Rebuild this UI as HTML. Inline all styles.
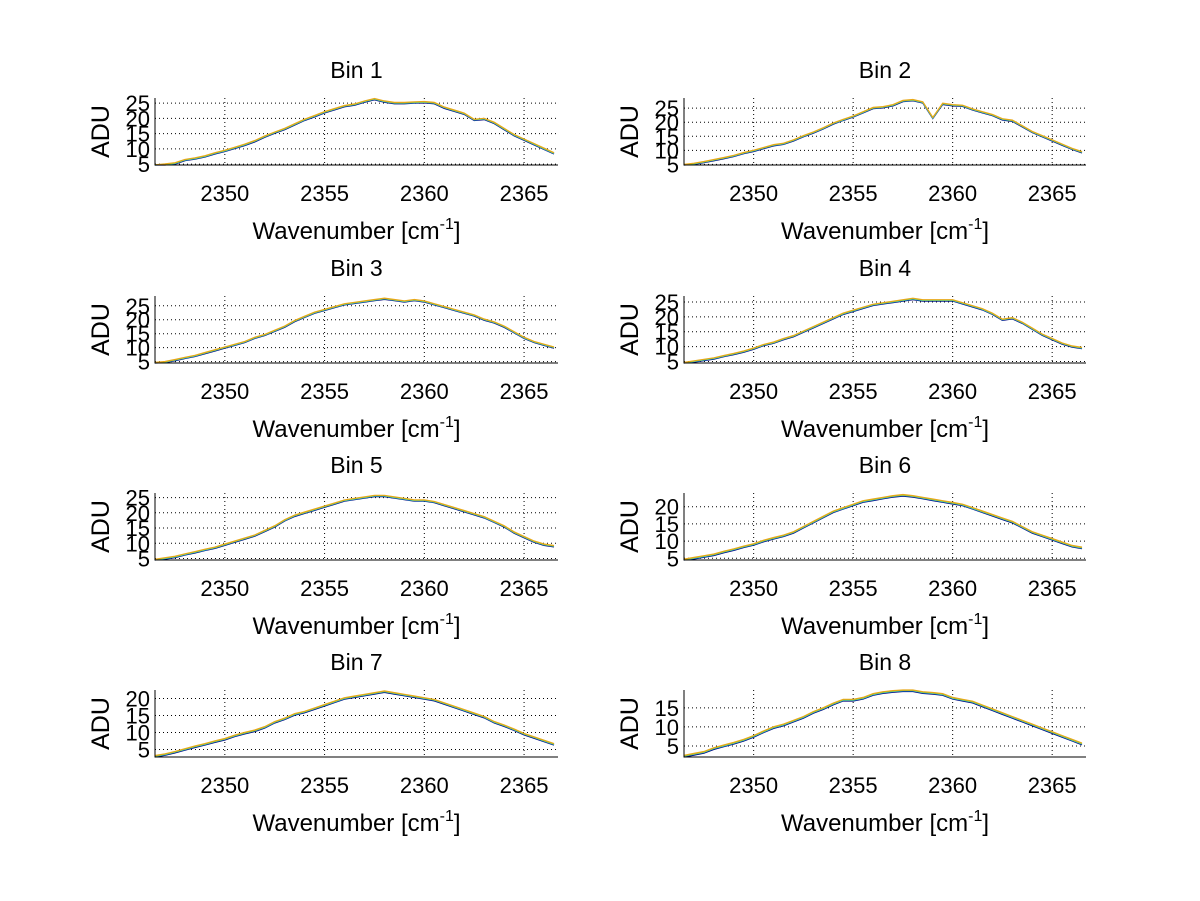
<!DOCTYPE html>
<html><head><meta charset="utf-8"><style>
html,body{margin:0;padding:0;background:#fff;}
svg{display:block;font-family:"Liberation Sans",sans-serif;}
</style></head><body>
<svg id="fig" width="1200" height="901" viewBox="0 0 1200 901"></svg>
<script>
const xMin = 2346.5, xStep = 0.5;
const xTicks = [2350, 2355, 2360, 2365];
const binTitles = ["Bin 1","Bin 2","Bin 3","Bin 4","Bin 5","Bin 6","Bin 7","Bin 8"];
const yRanges = [[4.7,26.7],[4.8,28.6],[4.5,28.5],[4.5,27],[4.5,26.5],[4.5,24],[2.8,22.5],[2.1,19.7]];
const yTicks = [[5,10,15,20,25],[5,10,15,20,25],[5,10,15,20,25],[5,10,15,20,25],[5,10,15,20,25],[5,10,15,20],[5,10,15,20],[5,10,15]];
const bin1 = [4.5,4.8,5.2,6.3,6.8,7.5,8.5,9.3,10.3,11.3,12.5,14,15.3,16.5,18,19.5,20.7,22,23,24,24.5,25.5,26.3,25.5,25,25,25.2,25.3,25,23.5,22.5,21.5,19.5,19.8,18.5,16.5,14.5,13,11.5,10,8.5];
const bin2 = [4.8,5.2,5.8,6.5,7.2,8,9,9.8,10.8,11.8,12.3,13.5,15,16.3,17.8,19.5,20.8,22,23.5,25,25.3,26,27.5,27.8,27,21.5,26.5,26,25.8,24.5,23.5,22.5,21,20.5,18.5,16.5,15,13.5,12,10.5,9.3];
const bin3 = [4.5,4.8,5.5,6.3,7,8,9,10,11,12,13.5,14.5,16,17.5,19.5,21,22.5,23.5,24.5,25.5,26,26.5,27,27.5,27,26.5,27,26.5,25.5,24.5,23.5,22.5,21.5,20,19,17.5,15.5,13.5,12,11,10];
const bin4 = [4.5,5,5.5,6,6.8,7.5,8.3,9.3,10.5,11.3,12.5,13.5,15,16.5,18,19.5,21,22,23,24,24.5,25,25.5,26,25.5,25.5,25.5,25.5,24.5,23.5,22.5,21,19,19.5,18,16,14,12.5,11,10,9.5];
const bin5 = [4.5,5,5.5,6.3,7,7.8,8.5,9.5,10.5,11.5,12.5,14,15.5,17.5,19,20,21,22,23,24,24.5,25,25.5,25.5,25,24.5,24,24,23.5,22.5,21.5,20.5,19.5,18.5,17,15.5,13.5,12,10.5,9.5,9];
const bin6 = [4.5,5,5.5,6,6.8,7.5,8.3,9,10,10.8,11.5,12.5,14,15.5,17,18.5,19.5,20.5,21.5,22,22.5,23,23.3,23,22.5,22,21.5,21,20.5,19.5,18.5,17.5,16.5,15.5,14,12.5,11.5,10.5,9.5,8.5,8];
const bin7 = [3,3.5,4.2,5,5.8,6.5,7.3,8,9,9.8,10.5,11.5,13,14,15.3,16,17,18,19,20,20.5,21,21.5,22,21.5,21,20.5,20,19.5,18.5,17.5,16.5,15.5,14.5,13,12,10.8,9.5,8.5,7.5,6.5];
const bin8 = [2.3,2.8,3.3,4.3,5,5.7,6.5,7.5,8.7,9.8,10.5,11.5,12.5,13.8,14.8,16,17,17,17.5,18.5,19,19.3,19.5,19.5,19,18.8,18.5,17.5,17,16.5,15.5,14.5,13.5,12.5,11.5,10.5,9.5,8.5,7.5,6.5,5.5];
const bins = [bin1,bin2,bin3,bin4,bin5,bin6,bin7,bin8];
const seriesOffsets = [-0.2, 0.0, 0.1, 0.25];
const seriesColors = ["#00007f","#20c8e8","#80c850","#e8a818"];

const NS = "http://www.w3.org/2000/svg";
const svg = document.getElementById("fig");
function mk(tag, attrs, parent){const e=document.createElementNS(NS,tag);for(const k in attrs)e.setAttribute(k,attrs[k]);(parent||svg).appendChild(e);return e;}
const colL=[155,684], colR=[558,1086], rowT=[98,296,493,690], H=67;

bins.forEach((vals,b)=>{
  const c=b%2, r=Math.floor(b/2);
  const L=colL[c], R=colR[c], T=rowT[r], B=T+H;
  const xmax=xMin+xStep*(vals.length-1)+0.2;
  const xs=v=>L+(v-xMin)/(xmax-xMin)*(R-L);
  const [y0,y1]=yRanges[b];
  const ys=v=>B-(v-y0)/(y1-y0)*H;
  const g=mk("g",{});
  
  
  xTicks.forEach(t=>{const l=mk("line",{x1:xs(t),x2:xs(t),y1:T,y2:B,stroke:"#000","stroke-width":1,"stroke-dasharray":"1,3"},g);
    
    const tx=mk("text",{x:xs(t),y:B+36,"font-size":22,"text-anchor":"middle"},g);tx.textContent=t;
    });
  yTicks[b].forEach(t=>{const l=mk("line",{x1:L,x2:R,y1:ys(t),y2:ys(t),stroke:"#000","stroke-width":1,"stroke-dasharray":"1,3"},g);
    
    const tx=mk("text",{x:L-5,y:ys(t)+8,"font-size":22,"text-anchor":"end"},g);tx.textContent=t;
    });
  seriesOffsets.forEach((off,s)=>{
    const pts=vals.map((v,i)=>xs(xMin+i*xStep).toFixed(1)+","+ys(Math.max(y0,Math.min(y1,v+off))).toFixed(1)).join(" ");
    const p=mk("polyline",{points:pts,fill:"none",stroke:seriesColors[s],"stroke-width":1.2},g);
    
    
  });
  const ax=mk("path",{d:`M${L},${T}V${B}H${R}`,fill:"none",stroke:"#000","stroke-width":1},g);
  
  const ti=mk("text",{x:(L+R)/2,y:T-20,"font-size":23,"text-anchor":"middle"},g);ti.textContent=binTitles[b];
  
  const xl=mk("text",{x:(L+R)/2,y:B+74,"font-size":24,"text-anchor":"middle"},g);
  xl.innerHTML='Wavenumber [cm<tspan dy="-10" font-size="16">-1</tspan><tspan dy="10">]</tspan>';
  
  const yl=mk("text",{x:0,y:0,"font-size":25,"text-anchor":"middle",transform:`translate(${L-46},${(T+B)/2}) rotate(-90)`},g);yl.textContent="ADU";
  
});
</script>
</body></html>
